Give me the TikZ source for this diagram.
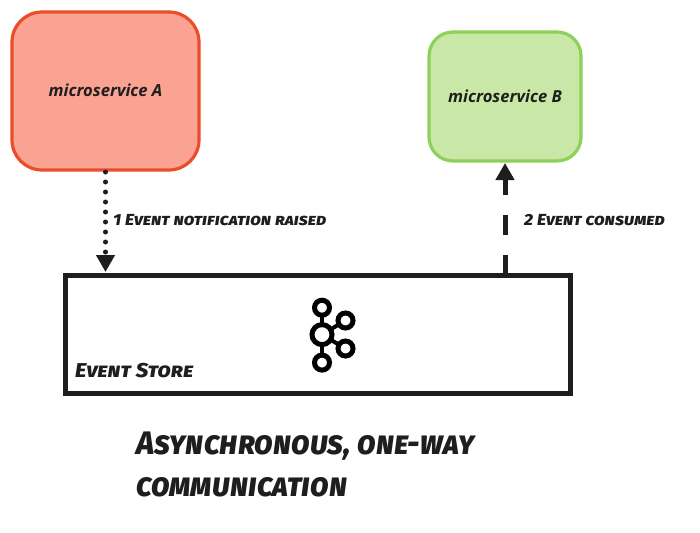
\documentclass[tikz,border=0pt]{standalone}
\usepackage{fontspec}
\setmainfont{Open Sans}
\newfontfamily\sketchfont[Letters=SmallCaps,FakeStretch=1.1]{Fira Sans ExtraBold Italic}
\newfontfamily\titlefont[Letters=SmallCaps,FakeStretch=0.95]{Fira Sans ExtraBold Italic}
\usetikzlibrary{arrows.meta}
\definecolor{inkc}{HTML}{1E1E1E}
\tikzset{
  svc/.style={draw,line width=3.2pt,outer sep=0pt,inner sep=0pt,anchor=north west,font=\fontsize{16.6}{20}\selectfont\bfseries\itshape,text=inkc},
  sketch/.style={anchor=west,inner sep=0pt,text=inkc,font=\sketchfont\fontsize{16}{20}\selectfont},
  bigtext/.style={anchor=west,inner sep=0pt,text=inkc,font=\titlefont\fontsize{32.5}{40}\selectfont},
  hole/.style={circle,draw=black,line width=5pt,fill=none,inner sep=0pt,outer sep=0pt},
  spoke/.style={draw=black,line width=4pt},
  flow/.style={draw=inkc,line width=5pt,-{Triangle[length=17pt,width=18pt]}}
}
\begin{document}
\begin{tikzpicture}[x=1pt,y=-1pt]
\useasboundingbox (0,0) rectangle (700,532);
\node[svc,rounded corners=30pt,minimum width=187pt,minimum height=158pt,draw={rgb,255:red,233;green,77;blue,44},fill={rgb,255:red,250;green,163;blue,147}] (A) at (12,12) {\raisebox{1.5pt}{microservice A}};
\node[svc,rounded corners=24pt,minimum width=152pt,minimum height=129pt,draw={rgb,255:red,142;green,208;blue,90},fill={rgb,255:red,201;green,232;blue,167}] (B) at (429,32) {\raisebox{1pt}{microservice B}};
\node[draw=inkc,line width=5pt,fill=white,outer sep=0pt,minimum width=505pt,minimum height=118pt,inner sep=0pt,anchor=north west] (store) at (65,275) {};
\draw[flow,line cap=round,dash pattern=on 0pt off 10pt] ([yshift=-2pt]A.south) -- ([yshift=3pt]store.north -| A.south);
\draw[flow,dash pattern=on 20pt off 20pt] (store.north -| B.south) -- ([yshift=-2pt]B.south);
\node[sketch] (l1) at (113,220) {1 Event notification raised};
\node[sketch] (l2) at (524,220) {2 Event consumed};
\node[sketch,font=\sketchfont\fontsize{20}{24}\selectfont] (l3) at (75,371) {Event Store};
\node[bigtext] (t1) at (136,446) {Asynchronous, one-way};
\node[bigtext] (t2) at (136,487) {communication};
% Kafka icon
\node[hole,minimum size=15pt] (k1) at (322,307.7) {};
\node[hole,minimum size=20pt] (k2) at (322,334.6) {};
\node[hole,minimum size=15pt] (k3) at (322,362.6) {};
\node[hole,minimum size=15pt] (k4) at (345.5,320.5) {};
\node[hole,minimum size=15pt] (k5) at (345.5,348.5) {};
\draw[spoke] (k1) -- (k2);
\draw[spoke] (k3) -- (k2);
\draw[spoke] (k4) -- (k2);
\draw[spoke] (k5) -- (k2);
\end{tikzpicture}
\end{document}
